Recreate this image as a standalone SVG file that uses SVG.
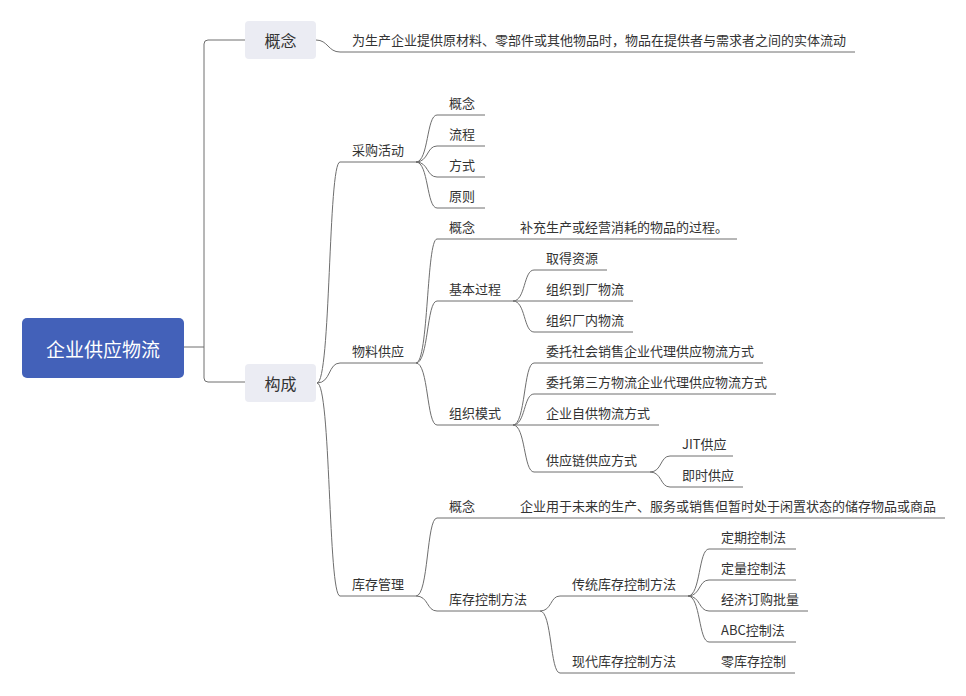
<svg xmlns="http://www.w3.org/2000/svg" width="966" height="696" viewBox="0 0 966 696">
<style>
text{font-family:"Microsoft YaHei","Noto Sans CJK SC","Noto Sans",sans-serif;fill:#333;font-size:13px}
.c{fill:none;stroke:#6e6e6e;stroke-width:1}
.box{fill:#ebecf3}
.mid{text-anchor:middle;dominant-baseline:central;font-size:16px}
.root{fill:#fff;font-size:19px;text-anchor:middle;dominant-baseline:central}
</style>
<rect width="966" height="696" fill="#fff"/>
<g id="connectors">
<path class="c" d="M184,347 H204 M245,40 H208 Q204,40 204,44 V378 Q204,382 208,382 H245"/>
<path class="c" d="M316,40 C328,40 328,52 340,52 H855"/>
<path class="c" d="M317,383 C331,383 328,162 340,162 H416"/>
<path class="c" d="M317,383 C331,383 328,363 340,363 H416"/>
<path class="c" d="M317,383 C331,383 328,596 340,596 H416"/>
<path class="c" d="M416,162 C428.6,162 426.5,115 437,115 H485"/>
<path class="c" d="M416,162 C428.6,162 426.5,146 437,146 H485"/>
<path class="c" d="M416,162 C428.6,162 426.5,177 437,177 H485"/>
<path class="c" d="M416,162 C428.6,162 426.5,208 437,208 H485"/>
<path class="c" d="M416,363 C428.6,363 426.5,239 437,239 H737"/>
<path class="c" d="M416,363 C428.6,363 426.5,301 437,301 H513"/>
<path class="c" d="M416,363 C428.6,363 426.5,425 437,425 H513"/>
<path class="c" d="M513,301 C525.6,301 523.5,270 534,270 H607"/>
<path class="c" d="M513,301 H633"/>
<path class="c" d="M513,301 C525.6,301 523.5,332 534,332 H633"/>
<path class="c" d="M513,425 C525.6,425 523.5,363 534,363 H763"/>
<path class="c" d="M513,425 C525.6,425 523.5,394 534,394 H776"/>
<path class="c" d="M513,425 H659"/>
<path class="c" d="M513,425 C525.6,425 523.5,472 534,472 H650"/>
<path class="c" d="M650,472 C662,472 660,456 670,456 H733"/>
<path class="c" d="M650,472 C662,472 660,487 670,487 H743"/>
<path class="c" d="M416,596 C428.6,596 426.5,518 437,518 H945"/>
<path class="c" d="M416,596 C428.6,596 426.5,611 437,611 H540"/>
<path class="c" d="M540,611 C552,611 550,596 560,596 H688"/>
<path class="c" d="M540,611 C552,611 550,673 560,673 H795"/>
<path class="c" d="M688,596 C700.6,596 698.5,549 709,549 H796"/>
<path class="c" d="M688,596 C700.6,596 698.5,580 709,580 H796"/>
<path class="c" d="M688,596 C700.6,596 698.5,611 709,611 H808"/>
<path class="c" d="M688,596 C700.6,596 698.5,642 709,642 H796"/>
</g>
<g id="root"><rect x="22" y="318" width="162" height="60" rx="5" fill="#4361b9"/><text class="root" x="103" y="348">企业供应物流</text></g>
<g id="n-gainian"><rect class="box" x="245" y="21" width="71" height="38" rx="4"/><text class="mid" x="280.5" y="40">概念</text></g>
<g id="n-goucheng"><rect class="box" x="245" y="364" width="71" height="38" rx="4"/><text class="mid" x="280.5" y="383">构成</text></g>
<g id="n-def"><text x="352" y="45">为生产企业提供原材料、零部件或其他物品时，物品在提供者与需求者之间的实体流动</text></g>
<g id="n-caigou"><text x="352" y="155">采购活动</text></g>
<g id="n-wuliao"><text x="352" y="356">物料供应</text></g>
<g id="n-kucun"><text x="352" y="589">库存管理</text></g>
<g id="n-cg1"><text x="449" y="108">概念</text></g>
<g id="n-cg2"><text x="449" y="139">流程</text></g>
<g id="n-cg3"><text x="449" y="170">方式</text></g>
<g id="n-cg4"><text x="449" y="201">原则</text></g>
<g id="n-wl1"><text x="449" y="232">概念</text></g>
<g id="n-wl1a"><text x="520" y="232">补充生产或经营消耗的物品的过程。</text></g>
<g id="n-wl2"><text x="449" y="294">基本过程</text></g>
<g id="n-wl3"><text x="449" y="418">组织模式</text></g>
<g id="n-jb1"><text x="546" y="263">取得资源</text></g>
<g id="n-jb2"><text x="546" y="294">组织到厂物流</text></g>
<g id="n-jb3"><text x="546" y="325">组织厂内物流</text></g>
<g id="n-zz1"><text x="546" y="356">委托社会销售企业代理供应物流方式</text></g>
<g id="n-zz2"><text x="546" y="387">委托第三方物流企业代理供应物流方式</text></g>
<g id="n-zz3"><text x="546" y="418">企业自供物流方式</text></g>
<g id="n-zz4"><text x="546" y="465">供应链供应方式</text></g>
<g id="n-gy1"><text x="682" y="449">JIT供应</text></g>
<g id="n-gy2"><text x="682" y="480">即时供应</text></g>
<g id="n-kc1"><text x="449" y="511">概念</text></g>
<g id="n-kc1a"><text x="520" y="511">企业用于未来的生产、服务或销售但暂时处于闲置状态的储存物品或商品</text></g>
<g id="n-kc2"><text x="449" y="604">库存控制方法</text></g>
<g id="n-ct"><text x="572" y="589">传统库存控制方法</text></g>
<g id="n-xd"><text x="572" y="666">现代库存控制方法</text></g>
<g id="n-xd1"><text x="721" y="666">零库存控制</text></g>
<g id="n-ct1"><text x="721" y="542">定期控制法</text></g>
<g id="n-ct2"><text x="721" y="573">定量控制法</text></g>
<g id="n-ct3"><text x="721" y="604">经济订购批量</text></g>
<g id="n-ct4"><text x="721" y="635">ABC控制法</text></g>
</svg>
